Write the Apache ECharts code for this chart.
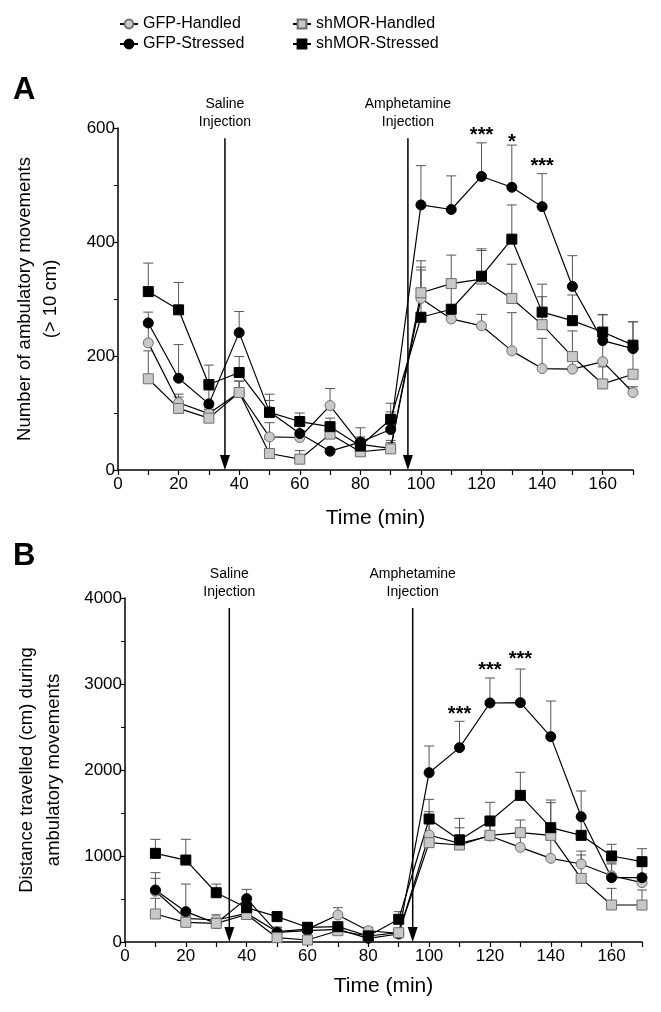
<!DOCTYPE html>
<html><head><meta charset="utf-8">
<script src="https://cdn.jsdelivr.net/npm/echarts@6/dist/echarts.min.js"></script>
<style>html,body{margin:0;padding:0;background:#fff}#c{width:661px;height:1012px}</style>
</head><body><div id="c"></div>
<script>
const time = [10,20,30,40,50,60,70,80,90,100,110,120,130,140,150,160,170];
const seriesNames = ['GFP-Handled','GFP-Stressed','shMOR-Handled','shMOR-Stressed'];

// Panel A: number of ambulatory movements
const A_gfpHandled   = [223,118,99,136,58,57,113,45,38,301,265,253,209,178,177,190,136];
const A_gfpHandledE  = [30,15,10,20,25,12,30,10,10,50,15,20,67,53,15,50,10];
const A_gfpStressed  = [258,161,116,241,102,64,33,49,71,465,457,515,496,462,322,227,213];
const A_gfpStressedE = [19,59,24,37,20,15,5,25,31,69,59,59,74,58,54,45,47];
const A_shHandled    = [160,108,91,136,29,19,63,32,37,311,327,335,301,255,199,151,168];
const A_shHandledE   = [49,20,15,20,25,15,20,10,15,45,50,50,60,49,45,30,50];
const A_shStressed   = [313,281,150,171,101,85,76,42,89,268,282,340,405,277,262,242,219];
const A_shStressedE  = [50,48,34,28,32,15,15,16,28,99,50,48,60,49,45,31,41];

// Panel B: distance travelled
const B_gfpHandled   = [590,275,256,333,120,150,314,131,100,1244,1147,1233,1101,973,907,770,690];
const B_gfpHandledE  = [150,100,60,60,50,30,85,40,40,200,100,150,200,300,150,150,100];
const B_gfpStressed  = [605,353,217,504,112,132,147,43,93,1969,2260,2779,2783,2388,1457,748,748];
const B_gfpStressedE = [201,321,60,108,60,30,40,30,50,310,306,291,391,414,299,159,180];
const B_shHandled    = [326,229,217,320,50,23,131,70,108,1155,1128,1240,1271,1240,740,430,430];
const B_shHandledE   = [182,80,60,50,40,30,40,30,50,360,200,200,148,380,272,194,175];
const B_shStressed   = [1031,953,573,399,295,171,178,70,264,1430,1186,1407,1705,1329,1240,1000,934];
const B_shStressedE  = [163,241,101,80,60,50,50,30,89,229,252,217,268,322,200,136,151];

// Injections
const injLabels = ['Saline\nInjection','Amphetamine\nInjection'];
const A_injTime = [35.3, 95.7];
const A_injTop = [582, 582];
const B_injTime = [34.3, 94.6];
const B_injTop = [3884, 3884];

// Significance stars
const A_starTime = [120,130,140];
const A_starVal  = [586,575,533];
const A_starText = ['***','*','***'];
const B_starTime = [110,120,130];
const B_starVal  = [2640,3160,3280];
const B_starText = ['***','***','***'];

const xTicksA = [0,170,10];
const yA = {max:600, interval:200};
const yB = {max:4000, interval:1000};

const FONT = 'Liberation Sans, Arial, sans-serif';
const GRAYFILL = '#c8c8c8';
const GRAYBORDER = '#6e6e6e';

const styles = [
  {symbol:'circle', fill:GRAYFILL, border:GRAYBORDER},
  {symbol:'circle', fill:'#000', border:'#000'},
  {symbol:'rect', fill:GRAYFILL, border:GRAYBORDER},
  {symbol:'rect', fill:'#000', border:'#000'}
];

function lineSeries(idx, vals, gi) {
  const s = styles[idx];
  return {
    type:'line', name:seriesNames[idx], xAxisIndex:gi, yAxisIndex:gi,
    data: time.map((t,i)=>[t, vals[i]]),
    symbol:s.symbol, symbolSize:10, showSymbol:true,
    lineStyle:{color:'#000', width:1.2},
    itemStyle:{color:s.fill, borderColor:s.border, borderWidth:1},
    z:5, animation:false
  };
}
function errSeries(idx, vals, errs, gi) {
  return {
    type:'custom', xAxisIndex:gi, yAxisIndex:gi, z:3, animation:false, silent:true,
    data: time.map((t,i)=>[t, vals[i], errs[i]]),
    renderItem(params, api){
      const x = api.value(0), y = api.value(1), e = api.value(2);
      const p0 = api.coord([x,y]), p1 = api.coord([x,y+e]);
      const col = '#555';
      return {type:'group', children:[
        {type:'line', shape:{x1:p0[0],y1:p0[1],x2:p1[0],y2:p1[1]}, style:{stroke:col, lineWidth:1}},
        {type:'line', shape:{x1:p1[0]-5,y1:p1[1],x2:p1[0]+5,y2:p1[1]}, style:{stroke:col, lineWidth:1}}
      ]};
    }
  };
}
function arrowSeries(times, tops, gi) {
  return {
    type:'custom', xAxisIndex:gi, yAxisIndex:gi, z:6, animation:false, silent:true,
    data: times.map((t,i)=>[t, tops[i], i]),
    renderItem(params, api){
      const x = api.value(0), top = api.value(1), i = api.value(2);
      const pt = api.coord([x, top]), pb = api.coord([x, 0]);
      const hh = 15, hw = 5;
      return {type:'group', children:[
        {type:'line', shape:{x1:pt[0],y1:pt[1],x2:pb[0],y2:pb[1]-hh+1}, style:{stroke:'#000', lineWidth:1.5}},
        {type:'polygon', shape:{points:[[pb[0]-hw,pb[1]-hh],[pb[0]+hw,pb[1]-hh],[pb[0],pb[1]]]}, style:{fill:'#000'}},
        {type:'text', x:pt[0], y:pt[1]-7, style:{text:injLabels[i], fontSize:14, fontFamily:FONT, fill:'#000', align:'center', verticalAlign:'bottom', lineHeight:18}}
      ]};
    }
  };
}
function starSeries(times, vals, texts, gi) {
  return {
    type:'custom', xAxisIndex:gi, yAxisIndex:gi, z:6, animation:false, silent:true,
    data: times.map((t,i)=>[t, vals[i], i]),
    renderItem(params, api){
      const p = api.coord([api.value(0), api.value(1)]);
      return {type:'text', x:p[0], y:p[1], style:{text:texts[api.value(2)], fontSize:20, fontWeight:'bold', fontFamily:FONT, fill:'#000', align:'center', verticalAlign:'middle'}};
    }
  };
}

function xAxis(gi) {
  return {
    type:'value', gridIndex:gi, min:xTicksA[0], max:xTicksA[1], interval:xTicksA[2],
    name:'Time (min)', nameLocation:'middle', nameGap:gi===0?38:34,
    nameTextStyle:{fontSize:21, fontFamily:FONT, color:'#000'},
    axisLine:{show:true, onZero:false, lineStyle:{color:'#000', width:1.5}},
    axisTick:{show:true, length:5, lineStyle:{color:'#000', width:1.2}},
    axisLabel:{fontSize:17, fontFamily:FONT, color:'#000', margin:6,
      formatter:v=> (v%20===0 && v<=160) ? String(v) : ''},
    splitLine:{show:false}
  };
}
function yAxis(gi, cfg, name, gap, lh) {
  return {
    type:'value', gridIndex:gi, min:0, max:cfg.max, interval:cfg.interval,
    name:name, nameLocation:'middle', nameGap:gap,
    nameTextStyle:{fontSize:18.5, fontFamily:FONT, color:'#000', lineHeight:lh},
    axisLine:{show:true, lineStyle:{color:'#000', width:1.5}},
    axisTick:{show:true, length:5, lineStyle:{color:'#000', width:1.2}},
    minorTick:{show:true, splitNumber:2, length:4, lineStyle:{color:'#000', width:1}},
    axisLabel:{fontSize:17, fontFamily:FONT, color:'#000', margin:3, formatter:v=>String(v)},
    splitLine:{show:false}, minorSplitLine:{show:false}
  };
}

const chart = echarts.init(document.getElementById('c'), null, {renderer:'canvas'});
chart.setOption({
  animation:false,
  backgroundColor:'#fff',
  grid:[
    {left:118, top:128, width:515, height:342},
    {left:125, top:598, width:517, height:344}
  ],
  legend:[
    {data:[seriesNames[0], seriesNames[1]], orient:'vertical', left:114, top:11, itemGap:4,
     itemWidth:18, itemHeight:11, textStyle:{fontSize:16, fontFamily:FONT, color:'#000'}},
    {data:[seriesNames[2], seriesNames[3]], orient:'vertical', left:287, top:11, itemGap:4,
     itemWidth:18, itemHeight:11, textStyle:{fontSize:16, fontFamily:FONT, color:'#000'}}
  ],
  graphic:[
    {type:'text', left:13, top:75, style:{text:'A', fontSize:31, fontWeight:'bold', fontFamily:FONT, fill:'#000'}},
    {type:'text', left:13, top:541, style:{text:'B', fontSize:31, fontWeight:'bold', fontFamily:FONT, fill:'#000'}}
  ],
  xAxis:[xAxis(0), xAxis(1)],
  yAxis:[
    yAxis(0, yA, 'Number of ambulatory movements\n(> 10 cm)', 54, 26),
    yAxis(1, yB, 'Distance travelled (cm) during\nambulatory movements', 58, 27)
  ],
  series:[
    errSeries(0, A_gfpHandled, A_gfpHandledE, 0),
    errSeries(1, A_gfpStressed, A_gfpStressedE, 0),
    errSeries(2, A_shHandled, A_shHandledE, 0),
    errSeries(3, A_shStressed, A_shStressedE, 0),
    lineSeries(0, A_gfpHandled, 0),
    lineSeries(1, A_gfpStressed, 0),
    lineSeries(2, A_shHandled, 0),
    lineSeries(3, A_shStressed, 0),
    arrowSeries(A_injTime, A_injTop, 0),
    starSeries(A_starTime, A_starVal, A_starText, 0),
    errSeries(0, B_gfpHandled, B_gfpHandledE, 1),
    errSeries(1, B_gfpStressed, B_gfpStressedE, 1),
    errSeries(2, B_shHandled, B_shHandledE, 1),
    errSeries(3, B_shStressed, B_shStressedE, 1),
    lineSeries(0, B_gfpHandled, 1),
    lineSeries(1, B_gfpStressed, 1),
    lineSeries(2, B_shHandled, 1),
    lineSeries(3, B_shStressed, 1),
    arrowSeries(B_injTime, B_injTop, 1),
    starSeries(B_starTime, B_starVal, B_starText, 1)
  ]
});
</script></body></html>
